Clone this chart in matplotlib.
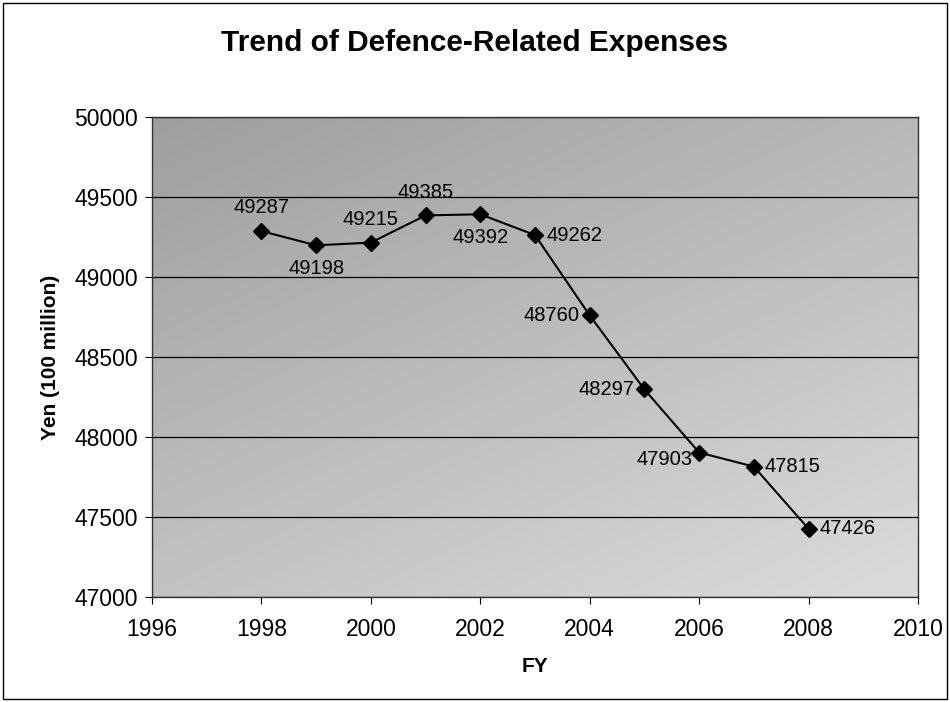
import matplotlib
matplotlib.use("Agg")
import matplotlib.pyplot as plt
import numpy as np
from matplotlib.patches import Rectangle

plt.rcParams['font.family'] = ['Liberation Sans', 'DejaVu Sans']

years = [1998, 1999, 2000, 2001, 2002, 2003, 2004, 2005, 2006, 2007, 2008]
expenses = [49287, 49198, 49215, 49385, 49392, 49262, 48760, 48297, 47903, 47815, 47426]
label_pos = ['above', 'below', 'above', 'above', 'below', 'right', 'left', 'left', 'leftbelow', 'right', 'right']
xticks = [1996, 1998, 2000, 2002, 2004, 2006, 2008, 2010]
yticks = [47000, 47500, 48000, 48500, 49000, 49500, 50000]

fig = plt.figure(figsize=(9.5, 7.02), dpi=100)
fig.patch.set_facecolor('white')
ax = fig.add_axes([152/950, 1-597/702, (918-152)/950, (597-117)/702])

# textured gray background gradient (decorative)
gy, gx = np.mgrid[0:1:200j, 0:1:300j]
grad = 0.62 + 0.2 * (gy * 0.7 + gx * 0.5)
ax.imshow(grad, cmap='gray', vmin=0, vmax=1, extent=[0, 1, 0, 1], transform=ax.transAxes,
          aspect='auto', zorder=0, origin='upper')

ax.set_xlim(1996, 2010)
ax.set_ylim(47000, 50000)
ax.set_xticks(xticks)
ax.set_yticks(yticks)
ax.yaxis.grid(True, color='black', linewidth=0.9, zorder=1)
ax.set_axisbelow(True)

ax.plot(years, expenses, color='black', linewidth=1.5, marker='D', markersize=8, zorder=3)

offsets = {'above': (0, 10, 'center', 'bottom'), 'below': (0, -10, 'center', 'top'),
           'right': (8, 0, 'left', 'center'), 'left': (-7, 0, 'right', 'center'),
           'leftbelow': (-5, -5, 'right', 'center')}
for x, y, p in zip(years, expenses, label_pos):
    dx, dy, ha, va = offsets[p]
    ax.annotate(str(y), (x, y), xytext=(dx, dy), textcoords='offset points', ha=ha, va=va,
                fontsize=14.5, color='black', zorder=4)

for s in ax.spines.values():
    s.set_color('#333333')
    s.set_linewidth(1.0)
ax.tick_params(axis='both', labelsize=16.5, direction='out', length=5, color='black')
ax.tick_params(axis='x', pad=10)
ax.tick_params(axis='y', pad=5)
ax.set_xlabel('FY', fontsize=15, fontweight='bold', labelpad=12)
ax.set_ylabel('Yen (100 million)', fontsize=15, fontweight='bold', labelpad=10)
fig.text(0.5, 1-43/702, 'Trend of Defence-Related Expenses', ha='center', va='center',
         fontsize=21.5, fontweight='bold')

fig.patches.append(Rectangle((3/950, 3/702), 1-6/950, 1-6/702, transform=fig.transFigure,
                             fill=False, edgecolor='black', linewidth=1.0))

fig.savefig('out.png', dpi=100)
